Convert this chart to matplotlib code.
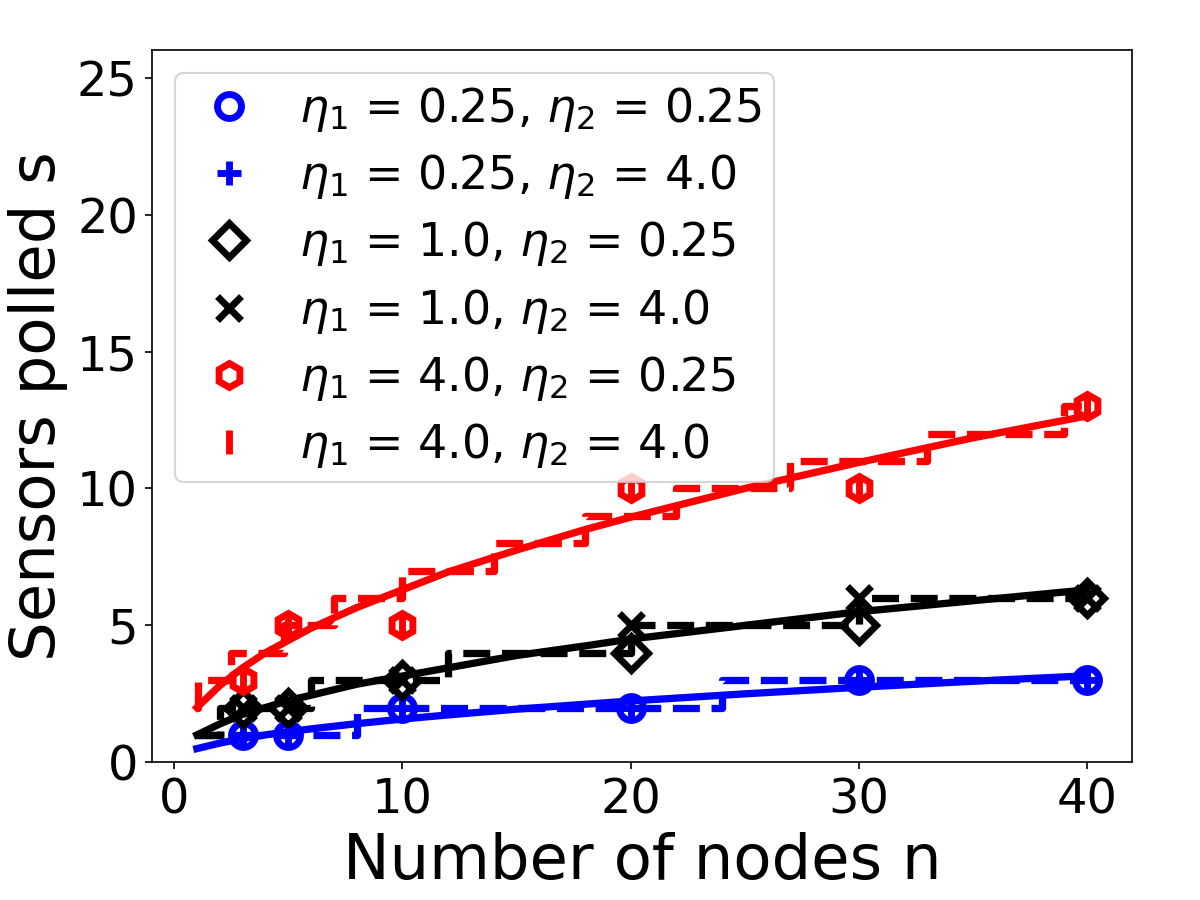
import numpy as np
import matplotlib
matplotlib.use('Agg')
import matplotlib.pyplot as plt

# measured points (n, sensors polled)
n_pts = [3, 5, 10, 20, 30, 40]
s_a = [1, 1, 2, 2, 3, 3]        # eta1=0.25, eta2=0.25
s_b = [1, 1, 2, 2, 3, 3]        # eta1=0.25, eta2=4.0
s_c = [2, 2, 3, 4, 5, 6]        # eta1=1.0, eta2=0.25
s_d = [2, 2, 3, 5, 6, 6]        # eta1=1.0, eta2=4.0
s_e = [3, 5, 5, 10, 10, 13]     # eta1=4.0, eta2=0.25
s_f = [3, 5, 5, 10, 10, 13]     # eta1=4.0, eta2=4.0

labels = [r'$\eta_1$ = 0.25, $\eta_2$ = 0.25',
          r'$\eta_1$ = 0.25, $\eta_2$ = 4.0',
          r'$\eta_1$ = 1.0, $\eta_2$ = 0.25',
          r'$\eta_1$ = 1.0, $\eta_2$ = 4.0',
          r'$\eta_1$ = 4.0, $\eta_2$ = 0.25',
          r'$\eta_1$ = 4.0, $\eta_2$ = 4.0']

# smooth curves
n_curve = [1, 2, 3, 4, 5, 6, 8, 10, 12, 15, 18, 20, 25, 30, 35, 40]
curve_blue = [0.5, 0.7, 0.87, 1.0, 1.12, 1.22, 1.41, 1.58, 1.73, 1.94, 2.12, 2.24, 2.5, 2.74, 2.96, 3.16]
curve_black = [1.0, 1.4, 1.75, 2.0, 2.25, 2.45, 2.85, 3.15, 3.45, 3.9, 4.25, 4.5, 5.0, 5.5, 5.9, 6.3]
curve_red = [2.0, 2.8, 3.45, 4.0, 4.45, 4.9, 5.65, 6.3, 6.95, 7.75, 8.5, 8.95, 10.0, 10.95, 11.85, 12.65]

# step (integer) bounds
step_blue_n = [1, 8, 24, 40]
step_blue_s = [1, 2, 3, 3]
step_black_n = [1, 2, 6, 12, 20, 30, 40]
step_black_s = [1, 2, 3, 4, 5, 6, 6]
step_red_n = [1, 1.05, 2.5, 4.8, 7, 10, 14, 18, 22, 27, 33, 39, 40]
step_red_s = [2, 3, 4, 5, 6, 7, 8, 9, 10, 11, 12, 13, 13]

plt.rcParams['font.size'] = 22

fig, ax = plt.subplots(figsize=(8, 6), dpi=150)
fig.subplots_adjust(left=0.127, right=0.943, bottom=0.153, top=0.944)

ms = 11.5
mew = 3.3
ax.plot(n_pts, s_a, 'o', color='blue', ms=ms, mew=mew, fillstyle='none', label=labels[0])
ax.plot(n_pts, s_b, '+', color='blue', ms=ms, mew=mew, label=labels[1])
ax.plot(n_pts, s_c, 'D', color='black', ms=ms, mew=mew, fillstyle='none', label=labels[2])
ax.plot(n_pts, s_d, 'x', color='black', ms=ms, mew=mew, label=labels[3])
ax.plot(n_pts, s_e, 'h', color='red', ms=ms, mew=mew, fillstyle='none', label=labels[4])
ax.plot(n_pts, s_f, '|', color='red', ms=ms, mew=mew, label=labels[5])

lw = 3.5
ax.plot(n_curve, curve_blue, '-', color='blue', lw=lw)
ax.step(step_blue_n, step_blue_s, '--', where='post', color='blue', lw=lw)
ax.plot(n_curve, curve_black, '-', color='black', lw=lw)
ax.step(step_black_n, step_black_s, '--', where='post', color='black', lw=lw)
ax.plot(n_curve, curve_red, '-', color='red', lw=lw)
ax.step(step_red_n, step_red_s, '--', where='post', color='red', lw=lw)

ax.set_ylim(0, 26)
ax.set_yticks([0, 5, 10, 15, 20, 25])
ax.set_xticks([0, 10, 20, 30, 40])
ax.tick_params(labelsize=23)
ax.set_xlabel('Number of nodes n', fontsize=30)
ax.set_ylabel('Sensors polled s', fontsize=30)
ax.legend(loc='upper left', fontsize=22, handlelength=1.85, handletextpad=0.6,
          labelspacing=0.4, borderpad=0.25)

fig.savefig('out.png', dpi=150)
